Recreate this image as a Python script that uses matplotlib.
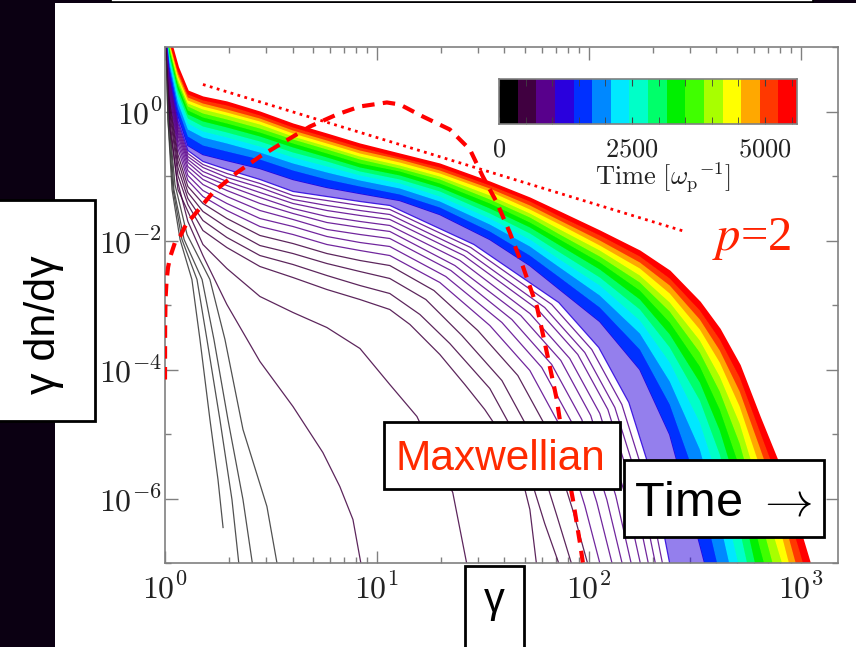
import numpy as np
import matplotlib.pyplot as plt
from matplotlib.patches import Rectangle
from matplotlib.colors import ListedColormap
from matplotlib.ticker import FixedLocator, LogLocator, NullFormatter

plt.rcParams['mathtext.fontset'] = 'cm'
plt.rcParams['font.family'] = ['Liberation Sans', 'DejaVu Sans']

W, H = 856, 647

# time bins of the colour bar (omega_p^-1) and their colours
time_edges = np.arange(0, 5601, 350)
bin_colors = ['#000000', '#400040', '#58008c', '#2a00dd', '#0030ff', '#0088ff',
              '#00e8ff', '#00ffc8', '#00ff6a', '#00f000', '#40ff00', '#a8ff00',
              '#ffff00', '#ffa800', '#ff3800', '#ff0000']

# ---- spectra, stored as log10(gamma) and log10(gamma dn/dgamma) ----
# earliest (black) spectra
g_a = [0, 0.014, 0.033, 0.071, 0.127, 0.165, 0.212, 0.250, 0.274]
f_a = [1.597, -0.124, -1.209, -1.984, -2.605, -3.535, -4.775, -5.705, -6.450]
g_b = [0, 0.014, 0.038, 0.080, 0.151, 0.198, 0.259, 0.316, 0.354]
f_b = [1.597, -0.124, -1.209, -1.984, -2.605, -3.535, -4.775, -6.016, -7.178]
g_c = [0, 0.019, 0.042, 0.090, 0.175, 0.231, 0.297, 0.368, 0.420]
f_c = [1.597, -0.124, -1.209, -1.984, -2.605, -3.535, -4.775, -6.016, -7.178]
g_d = [0, 0.019, 0.047, 0.104, 0.212, 0.283, 0.368, 0.481, 0.538]
f_d = [1.597, -0.124, -1.132, -1.907, -2.605, -3.535, -4.930, -6.124, -7.178]
g_e = [0, 0.024, 0.057, 0.108, 0.179, 0.292, 0.448, 0.604, 0.745, 0.825, 0.887, 0.934]
f_e = [1.597, -0.279, -1.054, -1.705, -2.233, -2.992, -3.876, -4.574, -5.287, -5.814, -6.326, -7.178]
g_c1 = [0, 0.024, 0.061, 0.108, 0.179, 0.292, 0.448, 0.604, 0.764, 0.920, 1.061, 1.189, 1.358, 1.434]
f_c1 = [1.597, -0.155, -1.209, -1.550, -2.062, -2.434, -2.868, -3.116, -3.349, -3.674, -4.233, -4.729, -5.907, -7.178]

# purple spectra: shared low-energy gamma points plus their own cutoffs
g_body = [0, 0.024, 0.061, 0.108, 0.179, 0.292, 0.448, 0.604, 0.764, 0.920, 1.061]
g_c2 = g_body + [1.156, 1.297, 1.415, 1.509, 1.604, 1.675, 1.722, 1.759]
f_c2 = [1.597, -0.047, -0.992, -1.442, -1.845, -2.109, -2.403, -2.574, -2.760, -2.915, -3.070,
        -3.302, -3.767, -4.233, -4.620, -5.085, -5.550, -6.171, -7.178]
g_c3 = g_body + [1.203, 1.344, 1.533, 1.675, 1.792, 1.877]
f_c3 = [1.597, 0.031, -0.868, -1.349, -1.690, -1.953, -2.233, -2.372, -2.543, -2.698, -2.822,
        -3.147, -3.597, -4.295, -5.147, -6.388, -7.178]
g_c4 = g_body + [1.231, 1.401, 1.590, 1.731, 1.849, 1.934]
f_c4 = [1.597, 0.109, -0.760, -1.256, -1.550, -1.798, -2.078, -2.202, -2.357, -2.481, -2.589,
        -2.915, -3.473, -4.171, -5.023, -6.264, -7.178]
g_c5 = g_body + [1.269, 1.476, 1.665, 1.807, 1.925, 2.009]
f_c5 = [1.597, 0.171, -0.667, -1.163, -1.426, -1.659, -1.922, -2.047, -2.202, -2.310, -2.388,
        -2.775, -3.395, -4.093, -4.946, -6.186, -7.178]
g_c6 = g_body + [1.297, 1.533, 1.722, 1.863, 1.981, 2.066]
f_c6 = [1.597, 0.233, -0.574, -1.070, -1.318, -1.535, -1.783, -1.907, -2.062, -2.155, -2.233,
        -2.651, -3.318, -4.016, -4.868, -6.109, -7.178]
g_c7 = g_body + [1.325, 1.590, 1.778, 1.920, 2.038, 2.123]
f_c7 = [1.597, 0.279, -0.496, -0.992, -1.225, -1.426, -1.659, -1.783, -1.938, -2.031, -2.093,
        -2.558, -3.271, -3.969, -4.822, -6.062, -7.178]
g_c8 = g_body + [1.349, 1.637, 1.825, 1.967, 2.085, 2.170]
f_c8 = [1.597, 0.326, -0.434, -0.915, -1.132, -1.318, -1.535, -1.674, -1.829, -1.907, -1.969,
        -2.465, -3.225, -3.922, -4.775, -6.016, -7.178]
g_c9 = g_body + [1.368, 1.679, 1.868, 2.009, 2.127, 2.212]
f_c9 = [1.597, 0.372, -0.372, -0.853, -1.054, -1.225, -1.426, -1.581, -1.721, -1.798, -1.860,
        -2.388, -3.163, -3.860, -4.713, -5.953, -7.178]
g_c10 = g_body + [1.392, 1.722, 1.910, 2.052, 2.170, 2.255]
f_c10 = [1.597, 0.403, -0.326, -0.791, -0.992, -1.147, -1.333, -1.504, -1.628, -1.705, -1.767,
         -2.310, -3.132, -3.829, -4.682, -5.922, -7.178]
g_c11 = g_body + [1.410, 1.759, 1.948, 2.090, 2.208, 2.292]
f_c11 = [1.597, 0.434, -0.279, -0.744, -0.930, -1.085, -1.256, -1.426, -1.535, -1.612, -1.674,
         -2.233, -3.070, -3.767, -4.620, -5.860, -7.178]
g_c12 = g_body + [1.425, 1.792, 1.981, 2.123, 2.241, 2.325]
f_c12 = [1.597, 0.465, -0.233, -0.698, -0.868, -1.023, -1.178, -1.364, -1.457, -1.535, -1.597,
         -2.171, -3.039, -3.736, -4.589, -5.829, -7.178]
g_c13 = g_body + [1.443, 1.825, 2.014, 2.156, 2.274, 2.358]
f_c13 = [1.597, 0.496, -0.186, -0.651, -0.822, -0.961, -1.116, -1.302, -1.380, -1.457, -1.519,
         -2.109, -2.992, -3.690, -4.543, -5.783, -7.178]
g_c14 = g_body + [1.458, 1.858, 2.047, 2.189, 2.307, 2.392]
f_c14 = [1.597, 0.527, -0.140, -0.605, -0.775, -0.899, -1.054, -1.240, -1.318, -1.395, -1.457,
         -2.062, -2.961, -3.659, -4.512, -5.752, -7.178]

# later spectra: upper edge of each colour bin (bins 4..16), on one gamma list
g_band = [0, 0.024, 0.061, 0.108, 0.179, 0.292, 0.448, 0.604, 0.764, 0.920, 1.108, 1.297,
          1.533, 1.722, 1.863, 2.052, 2.241, 2.382, 2.524, 2.618, 2.712, 2.807, 2.901, 2.995, 3.066]
f_t04 = [1.597, 0.574, -0.062, -0.527, -0.667, -0.760, -0.884, -1.054, -1.178, -1.271, -1.380, -1.597,
         -1.984, -2.388, -2.760, -3.256, -4.000, -5.008, -6.713, -7.9, -7.9, -7.9, -7.9, -7.9, -7.9]
f_t05 = [1.597, 0.651, 0.047, -0.388, -0.527, -0.620, -0.744, -0.915, -1.054, -1.163, -1.287, -1.488,
         -1.860, -2.233, -2.574, -3.039, -3.690, -4.543, -5.860, -7.178, -7.9, -7.9, -7.9, -7.9, -7.9]
f_t06 = [1.597, 0.713, 0.140, -0.279, -0.403, -0.496, -0.636, -0.806, -0.946, -1.070, -1.194, -1.395,
         -1.752, -2.093, -2.419, -2.853, -3.442, -4.186, -5.240, -6.357, -7.721, -7.9, -7.9, -7.9, -7.9]
f_t07 = [1.597, 0.775, 0.217, -0.186, -0.310, -0.403, -0.543, -0.713, -0.853, -0.992, -1.116, -1.318,
         -1.659, -1.984, -2.295, -2.698, -3.240, -3.891, -4.822, -5.783, -7.101, -7.9, -7.9, -7.9, -7.9]
f_t08 = [1.597, 0.822, 0.279, -0.109, -0.233, -0.326, -0.465, -0.636, -0.775, -0.930, -1.054, -1.240,
         -1.581, -1.891, -2.186, -2.574, -3.070, -3.659, -4.481, -5.318, -6.481, -7.9, -7.9, -7.9, -7.9]
f_t09 = [1.597, 0.868, 0.341, -0.047, -0.155, -0.248, -0.388, -0.558, -0.713, -0.868, -0.992, -1.178,
         -1.504, -1.798, -2.078, -2.450, -2.915, -3.457, -4.202, -4.946, -5.953, -7.333, -7.9, -7.9, -7.9]
f_t10 = [1.597, 0.915, 0.403, 0.016, -0.093, -0.186, -0.326, -0.496, -0.651, -0.806, -0.930, -1.116,
         -1.426, -1.721, -1.984, -2.341, -2.775, -3.271, -3.953, -4.620, -5.519, -6.760, -7.9, -7.9, -7.9]
f_t11 = [1.597, 0.961, 0.450, 0.078, -0.031, -0.124, -0.264, -0.434, -0.589, -0.744, -0.884, -1.054,
         -1.364, -1.643, -1.907, -2.248, -2.651, -3.101, -3.736, -4.341, -5.147, -6.264, -7.411, -7.9, -7.9]
f_t12 = [1.597, 0.992, 0.496, 0.124, 0.031, -0.062, -0.202, -0.388, -0.543, -0.698, -0.837, -1.008,
         -1.302, -1.581, -1.829, -2.155, -2.543, -2.961, -3.550, -4.109, -4.837, -5.860, -6.884, -7.9, -7.9]
f_t13 = [1.597, 1.023, 0.543, 0.171, 0.078, -0.016, -0.155, -0.341, -0.496, -0.651, -0.791, -0.961,
         -1.240, -1.519, -1.752, -2.078, -2.434, -2.822, -3.380, -3.891, -4.574, -5.504, -6.450, -7.643, -7.9]
f_t14 = [1.597, 1.054, 0.589, 0.217, 0.124, 0.031, -0.109, -0.295, -0.450, -0.605, -0.744, -0.915,
         -1.194, -1.457, -1.690, -2.000, -2.341, -2.698, -3.225, -3.705, -4.341, -5.209, -6.093, -7.225, -7.9]
f_t15 = [1.597, 1.085, 0.636, 0.264, 0.171, 0.093, -0.062, -0.248, -0.403, -0.558, -0.713, -0.868,
         -1.147, -1.395, -1.628, -1.922, -2.248, -2.589, -3.085, -3.535, -4.124, -4.961, -5.783, -6.822, -7.643]
f_t16 = [1.597, 1.116, 0.682, 0.310, 0.217, 0.140, -0.016, -0.202, -0.357, -0.512, -0.667, -0.822,
         -1.101, -1.349, -1.566, -1.860, -2.171, -2.481, -2.961, -3.380, -3.938, -4.744, -5.504, -6.481, -7.256]

# Maxwellian (dashed)
g_max = [0.00002, 0.0005, 0.0024, 0.0071, 0.0142, 0.0236, 0.047, 0.071, 0.104, 0.132,
         0.226, 0.340, 0.448, 0.557, 0.684, 0.811, 0.920, 1.047, 1.108, 1.217,
         1.344, 1.439, 1.500, 1.566, 1.627, 1.689, 1.755, 1.802, 1.849, 1.896,
         1.925, 1.958, 1.972]
f_max = [-4.155, -3.380, -2.915, -2.636, -2.419, -2.264, -2.031, -1.938, -1.721, -1.628,
         -1.256, -0.946, -0.698, -0.481, -0.233, -0.047, 0.078, 0.140, 0.109, -0.078,
         -0.279, -0.589, -1.008, -1.411, -1.876, -2.403, -3.023, -3.736, -4.465, -5.504,
         -6.016, -6.682, -6.992]

# p = 2 power law (dotted)
g_pl = [0.179, 2.453]
f_pl = [0.419, -1.860]


def px_rect(x0, y0, x1, y1, **kw):
    return Rectangle((x0 / W, 1 - y1 / H), (x1 - x0) / W, (y1 - y0) / H,
                     transform=fig.transFigure, **kw)


def lg(v):
    return 10 ** np.asarray(v, dtype=float)


fig = plt.figure(figsize=(W / 100, H / 100), dpi=100)
fig.patch.set_facecolor('white')

# dark slide background on the left and top
fig.add_artist(px_rect(0, 0, 55, H, fc='#0b0012', ec='none', zorder=0.5))
fig.add_artist(px_rect(55, 0, W, 3, fc='#0b0012', ec='none', zorder=0.5))
fig.add_artist(px_rect(111, -10, 813, 2, fc='white', ec='black', lw=1.2, zorder=0.6))

ax = fig.add_axes([165 / W, 1 - 563 / H, 673 / W, 516 / H])
ax.set_xscale('log')
ax.set_yscale('log')

early = [(g_a, f_a, 0), (g_b, f_b, 0), (g_c, f_c, 0), (g_d, f_d, 0),
         (g_e, f_e, 1), (g_c1, f_c1, 1), (g_c2, f_c2, 1), (g_c3, f_c3, 1),
         (g_c4, f_c4, 1), (g_c5, f_c5, 1), (g_c6, f_c6, 2), (g_c7, f_c7, 2),
         (g_c8, f_c8, 2), (g_c9, f_c9, 2), (g_c10, f_c10, 2), (g_c11, f_c11, 2),
         (g_c12, f_c12, 2), (g_c13, f_c13, 2), (g_c14, f_c14, 3)]
for g, f, b in early:
    col = '#333333' if b == 0 else bin_colors[b]
    ax.plot(lg(g), lg(f), color=col, lw=0.9, alpha=0.85, zorder=2)

band_tops = [f_t04, f_t05, f_t06, f_t07, f_t08, f_t09, f_t10,
             f_t11, f_t12, f_t13, f_t14, f_t15, f_t16]
low_g, low_f = np.array(g_c14), np.array(f_c14)
for k, ft in enumerate(band_tops):
    col = bin_colors[3 + k]
    up_g, up_f = np.array(g_band), np.array(ft)
    ax.fill(lg(np.r_[up_g, low_g[::-1]]), lg(np.r_[up_f, low_f[::-1]]),
            color=col, lw=0, alpha=0.5 if k == 0 else 1.0, zorder=2)
    ax.plot(lg(up_g), lg(up_f), color=col, lw=1.0 if k < 12 else 1.6, zorder=2)
    low_g, low_f = up_g, up_f

ax.plot(lg(g_max), lg(f_max), color='#ff0000', lw=3, dashes=(3, 2), zorder=5)
ax.plot(lg(g_pl), lg(f_pl), color='#ff0000', lw=2, linestyle=(0, (1, 1.6)), zorder=5)

ax.set_xlim(1, 1.5e3)
ax.set_ylim(1e-7, 1e1)
ax.set_xticks([1, 10, 100, 1000])
ax.set_xticklabels([r'$10^{0}$', r'$10^{1}$', r'$10^{2}$', r'$10^{3}$'])
ax.xaxis.set_minor_locator(LogLocator(base=10, subs=np.arange(2, 10)))
ax.xaxis.set_minor_formatter(NullFormatter())
ax.set_yticks([1, 1e-2, 1e-4, 1e-6])
ax.set_yticklabels([r'$10^{0}$', r'$10^{-2}$', r'$10^{-4}$', r'$10^{-6}$'])
ax.yaxis.set_minor_locator(FixedLocator([1e1, 1e-1, 1e-3, 1e-5, 1e-7]))
ax.yaxis.set_minor_formatter(NullFormatter())
ax.tick_params(which='both', direction='in', top=True, right=True,
               color='#808080', labelsize=23, labelcolor='#222222')
ax.tick_params(which='major', length=9, width=1)
ax.tick_params(which='minor', length=4.5, width=1)
ax.tick_params(axis='x', pad=8)
ax.tick_params(axis='y', pad=2)
for s in ax.spines.values():
    s.set_color('#808080')
    s.set_linewidth(1.2)

# colour bar inset
cax = fig.add_axes([499 / W, 1 - 124 / H, 298 / W, 45 / H])
cax.pcolormesh(time_edges, [0, 1], np.arange(16)[None, :],
               cmap=ListedColormap(bin_colors), vmin=-0.5, vmax=15.5)
cax.set_xlim(0, 5600)
cax.set_ylim(0, 1)
cax.set_yticks([])
cax.set_xticks([0, 2500, 5000])
cax.set_xticklabels([r'$0$', r'$2500$', r'$5000$'])
cax.xaxis.set_minor_locator(FixedLocator(np.arange(500, 5600, 500)))
cax.tick_params(which='both', direction='in', top=True, bottom=True,
                color='#404040', labelsize=19, labelcolor='#222222', pad=10)
cax.tick_params(which='major', length=5)
cax.tick_params(which='minor', length=5)
for s in cax.spines.values():
    s.set_color('#808080')
    s.set_linewidth(1.2)
fig.text(663 / W, 1 - 185 / H, r'$\mathrm{Time}\ [\omega_{\mathrm{p}}{}^{-1}]$',
         ha='center', va='baseline', fontsize=19, color='#222222')

# annotations
fig.text(752 / W, 1 - 250 / H, r'$p$=2', ha='center', va='baseline', fontsize=35,
         color='#ff2200', family='Liberation Serif', math_fontfamily='stix')

box_kw = dict(fc='white', ec='black', lw=2, zorder=5)
fig.add_artist(px_rect(-5, 200, 95, 421, **box_kw))
fig.text(44 / W, 1 - 325 / H, 'γ dn/dγ', rotation=90, ha='center', va='center',
         fontsize=31, zorder=6)
fig.add_artist(px_rect(384, 422, 620, 489, **box_kw))
fig.text(500 / W, 1 - 470 / H, 'Maxwellian', ha='center', va='baseline',
         fontsize=30.5, color='#ff2a00', zorder=6)
fig.add_artist(px_rect(624, 460, 824, 537, **box_kw))
fig.text(723 / W, 1 - 515 / H, r'Time $\rightarrow$', ha='center', va='baseline',
         fontsize=35, math_fontfamily='cm', zorder=6)
fig.add_artist(px_rect(465, 566, 524, 660, **box_kw))
fig.text(494 / W, 1 - 612 / H, 'γ', ha='center', va='baseline',
         fontsize=30, zorder=6)

fig.savefig('out.png', dpi=100)
